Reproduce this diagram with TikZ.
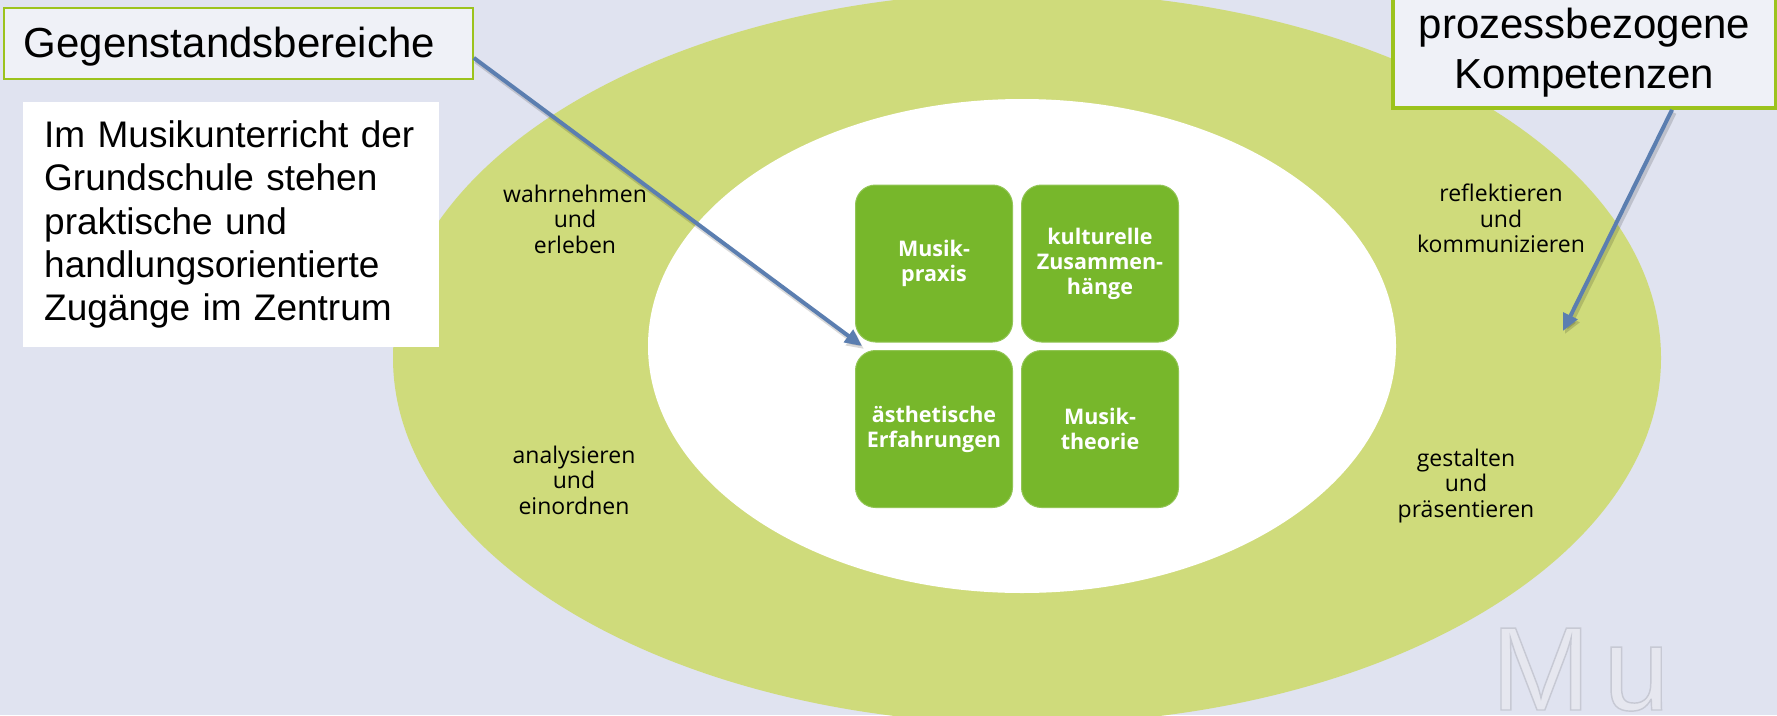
\documentclass[tikz,border=0pt]{standalone}
\usepackage{fontspec}
\setmainfont{Liberation Sans}
\newfontfamily\osans{Open Sans}
\newfontfamily\mufont[FakeBold=1.2]{Liberation Sans}
\usetikzlibrary{arrows.meta,calc}
\definecolor{bg}{HTML}{E0E3F0}
\definecolor{ring}{HTML}{CFDB7B}
\definecolor{boxgreen}{HTML}{77B72B}
\definecolor{hdrfill}{HTML}{EFF1F7}
\definecolor{hdrline}{HTML}{9CC31D}
\definecolor{arrowblue}{HTML}{5B7EB0}
\definecolor{mufill}{HTML}{E6E7EF}
\begin{document}
\begin{tikzpicture}[x=1pt,y=-1pt,
  tile/.style={rounded corners=20pt, fill=boxgreen, draw=boxgreen!80!white, line width=1pt,
    minimum width=157pt, minimum height=157pt, inner sep=0pt, text=white, align=center,
    font=\osans\bfseries\fontsize{21.5}{25}\selectfont},
  ringlabel/.style={align=center, inner sep=0pt, font=\osans\fontsize{23}{25.5}\selectfont},
  hdrbox/.style={fill=hdrfill, draw=hdrline},
  pointer/.style={draw=arrowblue, line width=4pt, -{Triangle[length=17pt,width=15pt]}},
  arrowshadow/.style={draw=black, opacity=0.15, line width=5pt, -{Triangle[length=17pt,width=15pt]},
    transform canvas={shift={(2pt,-3pt)}}},
]
\useasboundingbox (0,0) rectangle (1777,715);
\clip (0,0) rectangle (1777,715);
\fill[bg] (0,0) rectangle (1777,715);
\fill[ring] (1027,358) ellipse [x radius=634pt, y radius=366pt];
\fill[white] (1022,346) ellipse [x radius=374pt, y radius=247pt];

% ring labels
\node[ringlabel] (l1) at (575,219) {wahrnehmen\\und\\erleben};
\node[ringlabel] (l2) at (574,480) {analysieren\\und\\einordnen};
\node[ringlabel] (l3) at (1501,218.5) {reflektieren\\und\\kommunizieren};
\node[ringlabel] (l4) at (1466,486) {gestalten\\und\\präsentieren};

% tiles
\node[tile] (t1) at (934,263.5) {Musik-\\praxis};
\node[tile] (t2) at (1100,263.5) {kulturelle\\Zusammen-\\hänge};
\node[tile] (t3) at (934,429) {ästhetische\\Erfahrungen};
\node[tile] (t4) at (1100,429) {Musik-\\theorie};

% watermark (outlined text: light fill, grey stroke)
\node[anchor=base west, inner sep=0pt, font=\mufont\fontsize{119}{119}\selectfont, text=mufill] (mu)
  at (1491,710) {\special{pdf:literal direct 0.78 0.79 0.83 RG}M\kern13pt u};

% header boxes
\node[hdrbox, line width=1.8pt, anchor=north west, minimum width=469pt, minimum height=71pt,
  inner xsep=20pt, inner ysep=0pt, text width=429pt, align=left,
  font=\fontsize{42}{48}\selectfont, text height=37.7pt, text depth=8.8pt] (gb) at (3,7) {Gegenstandsbereiche};

\node[fill=white, anchor=north west, minimum width=416pt, minimum height=245pt,
  inner xsep=21pt, inner ysep=0pt, text width=374pt, align=left,
  font=\fontsize{37}{43.3}\selectfont] (ctx) at (23,102)
  {Im Musikunterricht der\\Grundschule stehen\\praktische und\\handlungsorientierte\\Zugänge im Zentrum};

\node[hdrbox, line width=3.5pt, minimum width=383pt, minimum height=140pt, inner sep=0pt] (pkbox) at (1584.5,38) {};
\node[align=center, inner sep=0pt, font=\fontsize{42}{50}\selectfont] (pk) at (1584.5,53) {prozessbezogene\\Kompetenzen};

% arrows
\coordinate (a1end) at (862,346);
\coordinate (a2end) at (1563,331);
\draw[arrowshadow] ([yshift=-14.5pt]gb.east) -- (a1end);
\draw[arrowshadow] ([xshift=87.5pt]pkbox.south) -- (a2end);
\draw[pointer] ([yshift=-14.5pt]gb.east) -- (a1end);
\draw[pointer] ([xshift=87.5pt]pkbox.south) -- (a2end);
\end{tikzpicture}
\end{document}
